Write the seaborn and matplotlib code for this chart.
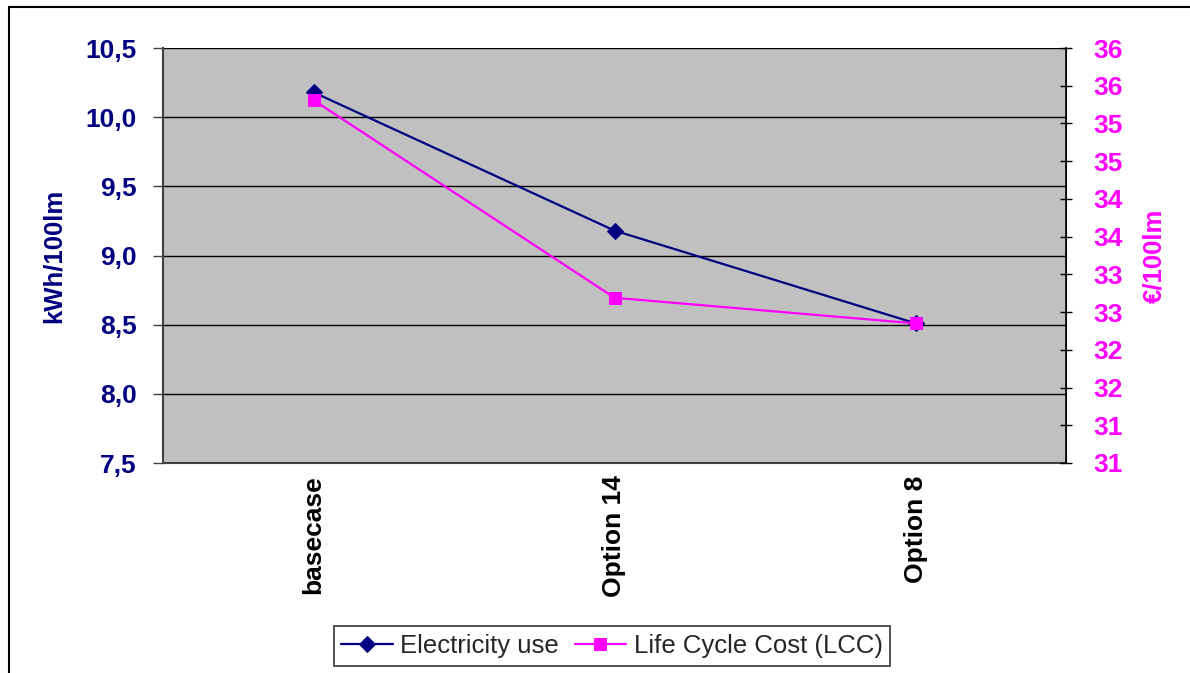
import numpy as np
import pandas as pd
import seaborn as sns
import matplotlib.pyplot as plt
from matplotlib.patches import Rectangle
from matplotlib.ticker import FuncFormatter, FixedLocator

# values
options = ["basecase", "Option 14", "Option 8"]
electricity = [10.18, 9.18, 8.51]      # kWh/100lm
lcc = [35.31, 32.69, 32.35]            # EUR/100lm

NAVY = "#000080"
MAGENTA = "#FF00FF"

sns.set_style("white")
plt.rcParams["font.family"] = ["Liberation Sans", "DejaVu Sans"]

df = pd.DataFrame({"pos": np.arange(len(options)), "option": options,
                   "elec": electricity, "lcc": lcc})

fig = plt.figure(figsize=(11.9, 6.73), dpi=100)
ax = fig.add_axes([163 / 1190, 1 - 463 / 673, (1066 - 163) / 1190, (463 - 48) / 673])
ax.set_facecolor("#C0C0C0")
ax2 = ax.twinx()

sns.lineplot(data=df, x="pos", y="elec", ax=ax, color=NAVY, marker="D",
             markersize=8, markeredgecolor=NAVY, linewidth=1.6,
             label="Electricity use", legend=False)
sns.lineplot(data=df, x="pos", y="lcc", ax=ax2, color=MAGENTA, marker="s",
             markersize=9, markeredgecolor=MAGENTA, linewidth=1.6,
             label="Life Cycle Cost (LCC)", legend=False)

# left axis
ax.set_ylim(7.5, 10.5)
ax.set_yticks(np.arange(7.5, 10.51, 0.5))
ax.yaxis.set_major_formatter(FuncFormatter(lambda v, p: f"{v:.1f}".replace(".", ",")))
ax.tick_params(axis="y", colors="#404040", labelcolor=NAVY, labelsize=19,
               direction="out", length=7, width=1, pad=12)
for t in ax.get_yticklabels():
    t.set_fontweight("bold")
ax.set_ylabel("kWh/100lm", color=NAVY, fontsize=18.5, fontweight="bold", labelpad=14)
ax.yaxis.grid(True, color="black", linewidth=1)
ax.set_axisbelow(True)

# right axis
ax2.set_ylim(30.5, 36)
ax2.set_yticks(np.arange(30.5, 36.01, 0.5))
ax2.yaxis.set_major_formatter(FuncFormatter(lambda v, p: f"{int(np.floor(v + 0.5))}"))
ax2.tick_params(axis="y", colors="black", labelcolor=MAGENTA, labelsize=19,
                direction="inout", length=9, width=1, pad=15)
for t in ax2.get_yticklabels():
    t.set_fontweight("bold")
ax2.set_ylabel("€/100lm", color=MAGENTA, fontsize=18.5, fontweight="bold", labelpad=14)
ax2.grid(False)

# category axis
ax.set_xlim(-0.5, len(options) - 0.5)
ax.xaxis.set_major_locator(FixedLocator(np.arange(-0.5, len(options), 1.0)))
ax.xaxis.set_major_formatter(FuncFormatter(lambda v, p: ""))
ax.xaxis.set_minor_locator(FixedLocator(df["pos"]))
ax.set_xticklabels(options, minor=True, rotation=90, fontsize=19, fontweight="bold")
ax.tick_params(axis="x", which="major", direction="out", length=7, width=1, colors="#404040")
ax.tick_params(axis="x", which="minor", length=0, pad=9, labelcolor="black")
ax.set_xlabel("")

for s in ["top"]:
    ax.spines[s].set_visible(False)
    ax2.spines[s].set_visible(False)
ax.spines["left"].set_color("#404040")
ax.spines["left"].set_linewidth(1.5)
ax.spines["bottom"].set_color("#404040")
ax.spines["bottom"].set_linewidth(1.5)
ax2.spines["left"].set_visible(False)
ax2.spines["bottom"].set_visible(False)
ax2.spines["right"].set_color("black")
ax2.spines["right"].set_linewidth(1.2)

# legend
h1, l1 = ax.get_legend_handles_labels()
h2, l2 = ax2.get_legend_handles_labels()
leg = fig.legend(h1 + h2, l1 + l2, loc="center", ncol=2,
                 bbox_to_anchor=(612 / 1190, 1 - 646 / 673), fontsize=18.5,
                 frameon=True, fancybox=False, edgecolor="black",
                 handlelength=2.0, handletextpad=0.3, columnspacing=0.6,
                 borderpad=0.3, borderaxespad=0)
leg.get_frame().set_linewidth(1.2)

# outer chart border
fig.patches.append(Rectangle((9 / 1190, -0.1), 1.2, 1.1 - 7 / 673,
                             transform=fig.transFigure, fill=False,
                             edgecolor="black", linewidth=1.5))

fig.savefig("out.png", dpi=100)
